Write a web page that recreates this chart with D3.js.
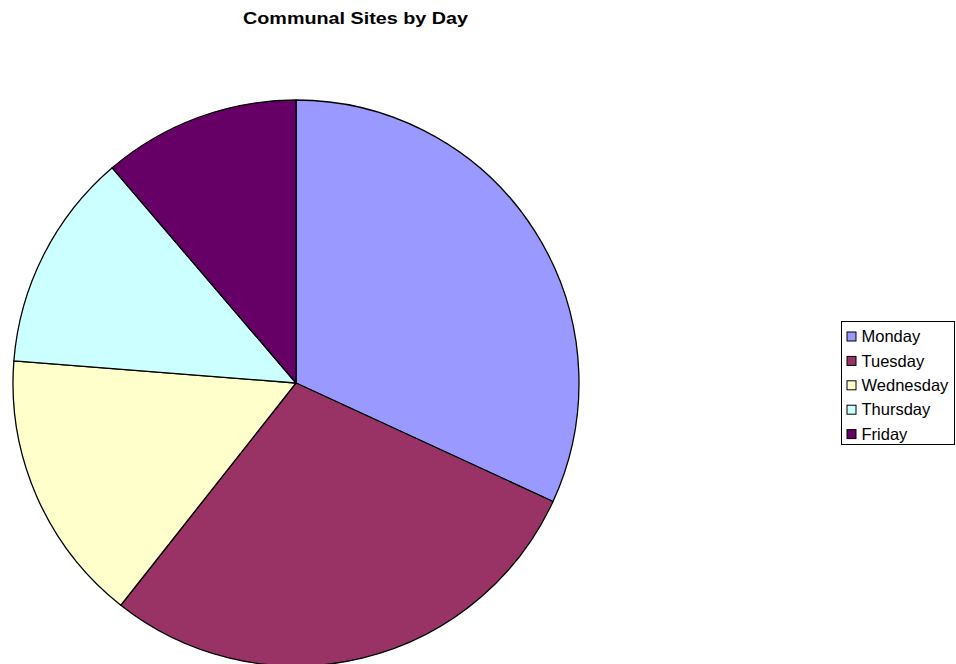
<!DOCTYPE html>
<html>
<head>
<meta charset="utf-8">
<script src="https://cdn.jsdelivr.net/npm/d3@7"></script>
<style>
  html, body { margin: 0; padding: 0; background: #fff; overflow: hidden; }
  svg { display: block; }
</style>
</head>
<body>
<svg id="chart" width="956" height="664"></svg>
<script>
// Communal site counts per weekday
const days = ["Monday", "Tuesday", "Wednesday", "Thursday", "Friday"];
const sites = [51, 46, 25, 20, 18];
const sliceColors = ["#9999FF", "#993366", "#FFFFCC", "#CCFFFF", "#660066"];

const svg = d3.select("#chart");
const W = 956, H = 664;
svg.append("rect").attr("width", W).attr("height", H).attr("fill", "#fff");

const fontFamily = "Arial, 'Liberation Sans', Helvetica, sans-serif";

// Title (wide bold face, stretched to its set width)
svg.append("text")
  .attr("x", 243).attr("y", 24)
  .attr("font-family", fontFamily)
  .attr("font-weight", "bold")
  .attr("font-size", 16.5)
  .attr("textLength", 225)
  .attr("lengthAdjust", "spacingAndGlyphs")
  .attr("fill", "#000")
  .text("Communal Sites by Day");

// Pie, starting at 12 o'clock and running clockwise
const cx = 296, cy = 383, radius = 283;
const color = d3.scaleOrdinal().domain(days).range(sliceColors);
const pie = d3.pie().sort(null).value(d => d.value);
const arc = d3.arc().innerRadius(0).outerRadius(radius);
const data = days.map((d, i) => ({ day: d, value: sites[i] }));

svg.append("g")
  .attr("transform", `translate(${cx},${cy})`)
  .selectAll("path")
  .data(pie(data))
  .join("path")
  .attr("d", arc)
  .attr("fill", d => color(d.data.day))
  .attr("stroke", "#000")
  .attr("stroke-width", 1.3)
  .attr("stroke-linejoin", "round");

// Legend
const lx = 841.5, ly = 321.5, lw = 113, lh = 123, rowH = 24.4;
const legend = svg.append("g");
legend.append("rect")
  .attr("x", lx).attr("y", ly).attr("width", lw).attr("height", lh)
  .attr("fill", "#fff").attr("stroke", "#000").attr("stroke-width", 1);

const rows = legend.selectAll("g.row")
  .data(days)
  .join("g")
  .attr("class", "row")
  .attr("transform", (d, i) => `translate(${lx + 5.5},${ly + 15 + i * rowH})`);

rows.append("rect")
  .attr("x", 0).attr("y", -4.5).attr("width", 9).attr("height", 9)
  .attr("fill", d => color(d))
  .attr("stroke", "#000").attr("stroke-width", 1);

rows.append("text")
  .attr("x", 14.5).attr("y", 0)
  .attr("dy", "0.35em")
  .attr("font-family", fontFamily)
  .attr("font-size", 16.5)
  .attr("fill", "#000")
  .text(d => d);
</script>
</body>
</html>
